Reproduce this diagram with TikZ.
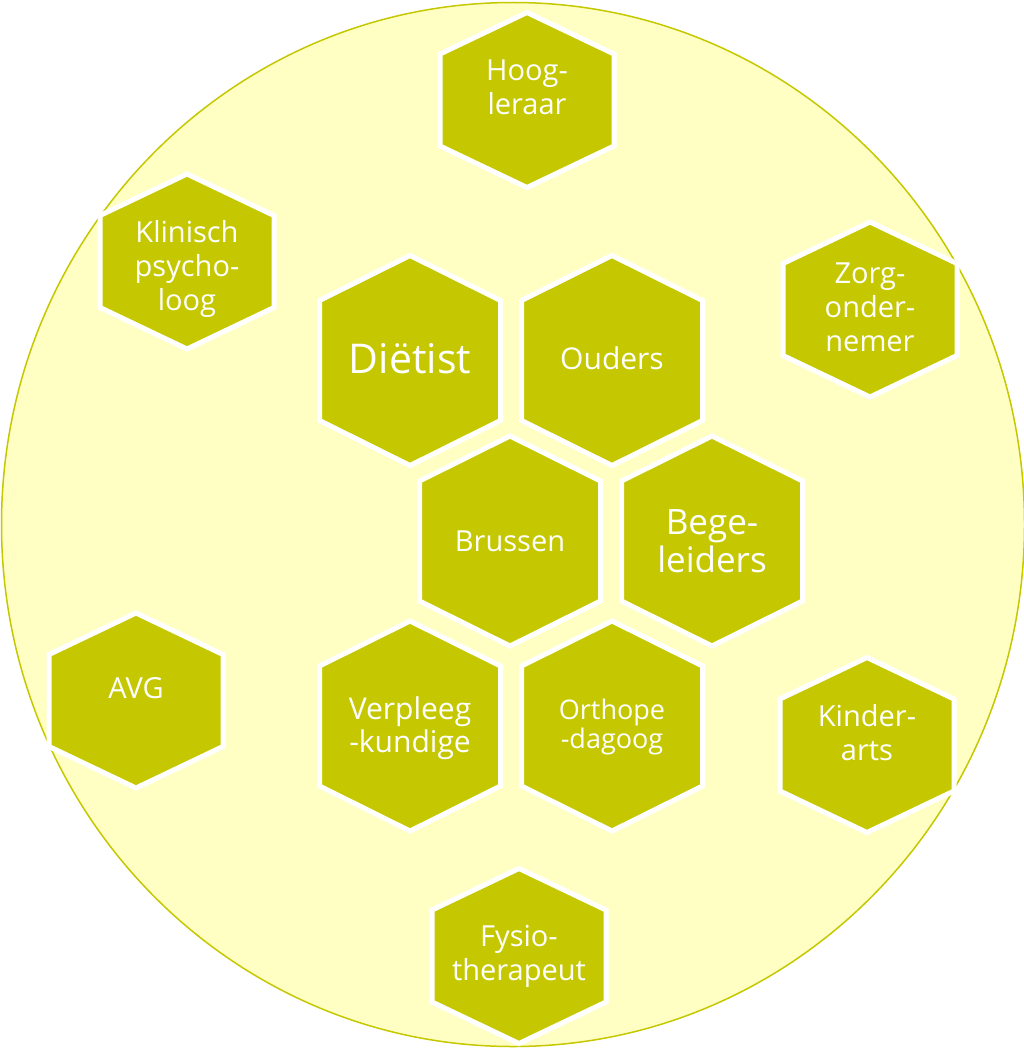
\documentclass[tikz,border=0pt]{standalone}
\usepackage{fontspec}
\setmainfont{Open Sans}
\usepackage{tikz}

\definecolor{cellgreen}{RGB}{197,200,0}
\definecolor{paleyellow}{RGB}{255,255,196}

\newcommand{\hexcell}[8][]{%
  \filldraw[hexbox] ({#3},{#4-#6}) -- ({#3+#5},{#4-#7}) -- ({#3+#5},{#4+#7}) -- ({#3},{#4+#6}) -- ({#3-#5},{#4+#7}) -- ({#3-#5},{#4-#7}) -- cycle;
  \node[hexlabel, #1] (#2) at (#3,#4) {#8};}
\newcommand{\bighex}[5][]{\hexcell[#1]{#2}{#3}{#4}{90.5}{105}{60}{#5}}
\newcommand{\smallhex}[5][]{\hexcell[#1]{#2}{#3}{#4}{87}{87.5}{46}{#5}}

\begin{document}
\begin{tikzpicture}[x=1pt, y=-1pt, hexbox/.style={fill=cellgreen, draw=white, line width=5pt, line join=miter}, hexlabel/.style={text=white, align=center, inner sep=0pt, text depth=0pt, font=\fontsize{29}{34}\selectfont}]
    \useasboundingbox (0,0) rectangle (1024,1049);
    \filldraw[fill=paleyellow, draw=cellgreen, line width=1.5pt] (513,524.5) ellipse [x radius=511.5, y radius=522];
    \smallhex[yshift=13pt]{hoogleraar}{527}{100}{Hoog-\\leraar}
    \smallhex[yshift=-4pt]{psycholoog}{187}{261.5}{Klinisch\\psycho-\\loog}
    \smallhex[yshift=2.5pt]{zorgondernemer}{870}{309.5}{Zorg-\\onder-\\nemer}
    \smallhex[yshift=12.5pt]{avg}{136}{700.5}{AVG}
    \smallhex[yshift=12.5pt]{kinderarts}{867}{745}{Kinder-\\arts}
    \smallhex[yshift=3.5pt]{fysio}{519}{956}{Fysio-\\therapeut}
    \bighex[yshift=2pt, font=\fontsize{41}{46}\selectfont]{dietist}{410}{360.5}{Diëtist}
    \bighex[yshift=2pt, font=\fontsize{30}{34}\selectfont]{ouders}{612}{360.5}{Ouders}
    \bighex{brussen}{510}{541}{Brussen}
    \bighex[font=\fontsize{35}{38}\selectfont]{begeleiders}{712}{541}{Bege-\\leiders}
    \bighex[yshift=1.5pt, font=\fontsize{30}{33}\selectfont]{verpleegkundige}{410}{726}{Verpleeg\\-kundige}
    \bighex[yshift=2.5pt, font=\fontsize{27}{29}\selectfont]{orthopedagoog}{612}{726}{Orthope\\-dagoog}
\end{tikzpicture}
\end{document}
